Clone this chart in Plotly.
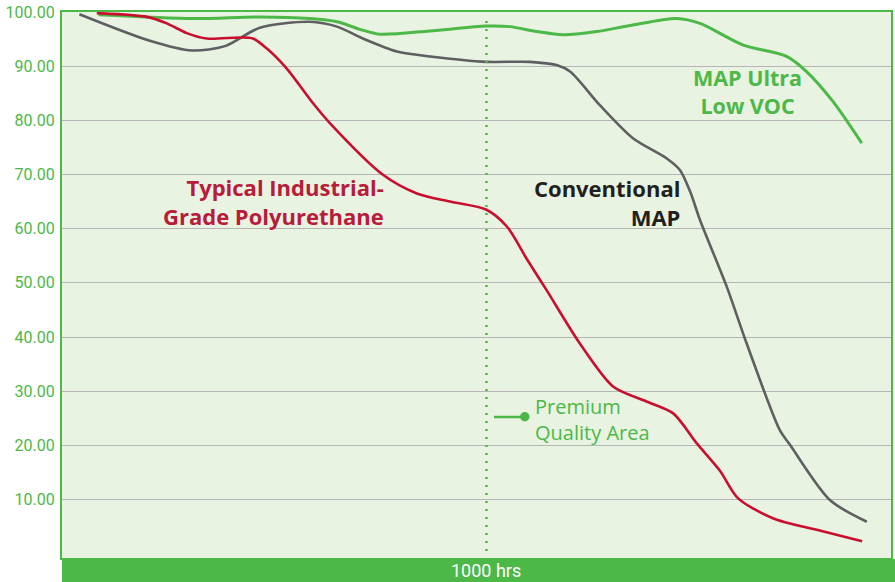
import plotly.graph_objects as go

# x in hours, y in retained value (%)
gray_x = [41, 207, 306, 384, 466, 584, 648, 709, 789, 867, 1000, 1102, 1165, 1197, 1267, 1345, 1424, 1456, 1480, 1503, 1566, 1613, 1691, 1715, 1809, 1896]
gray_y = [99.6, 94.7, 92.9, 93.7, 97.1, 98.2, 97.3, 95.1, 92.7, 91.8, 90.8, 90.8, 90.2, 89.0, 82.8, 76.7, 73.0, 70.8, 66.8, 61.6, 49.3, 38.8, 22.8, 20.1, 9.9, 5.9]

green_x = [86, 309, 466, 584, 648, 702, 749, 867, 1000, 1055, 1118, 1180, 1260, 1338, 1448, 1503, 1605, 1707, 1754, 1817, 1884]
green_y = [99.5, 98.8, 99.1, 98.8, 98.2, 96.8, 95.9, 96.5, 97.4, 97.3, 96.4, 95.8, 96.4, 97.5, 98.8, 97.9, 93.9, 91.8, 89.0, 83.4, 75.8]

red_x = [82, 200, 247, 294, 341, 419, 450, 482, 529, 591, 631, 757, 836, 914, 1000, 1048, 1095, 1142, 1220, 1299, 1377, 1440, 1495, 1550, 1593, 1676, 1778, 1885]
red_y = [99.8, 99.1, 97.9, 96.1, 95.1, 95.3, 95.1, 93.3, 89.6, 83.2, 79.5, 69.9, 66.5, 65.0, 63.5, 60.4, 54.4, 48.6, 38.8, 30.8, 28.1, 25.9, 20.4, 15.3, 10.2, 6.5, 4.4, 2.3]

y_ticks = [10, 20, 30, 40, 50, 60, 70, 80, 90, 100]
marker_hours = 1000

GREEN = "#4cb848"
RED = "#c8102e"
GRAY = "#5f5f61"
BG = "#e8f3e1"
NARROW = "Roboto, sans-serif"
BOLD = "Open Sans, sans-serif"

fig = go.Figure()
fig.add_trace(go.Scatter(x=gray_x, y=gray_y, mode="lines",
                         line=dict(color=GRAY, width=2.6, shape="spline", smoothing=0.8)))
fig.add_trace(go.Scatter(x=green_x, y=green_y, mode="lines",
                         line=dict(color=GREEN, width=3, shape="spline", smoothing=0.8)))
fig.add_trace(go.Scatter(x=red_x, y=red_y, mode="lines",
                         line=dict(color=RED, width=2.6, shape="spline", smoothing=0.8)))

# dotted 1000 hr line
fig.add_shape(type="line", xref="x", yref="y", x0=marker_hours, x1=marker_hours, y0=0.5, y1=99,
              line=dict(color=GREEN, width=2.5, dash="2px,6px"))

# bottom green bar
fig.add_shape(type="rect", xref="paper", yref="paper", x0=0, x1=1 + 4 / 829, y0=-25 / 546, y1=-1 / 546,
              fillcolor=GREEN, line=dict(width=0), layer="above")

# legend-like marker for premium quality area
fig.add_shape(type="line", xref="paper", yref="paper", x0=(494 - 62) / 829, x1=(524 - 62) / 829,
              y0=(558 - 417) / 546, y1=(558 - 417) / 546, line=dict(color=GREEN, width=2.5))
fig.add_shape(type="circle", xref="paper", yref="paper",
              x0=(520 - 62) / 829, x1=(529.5 - 62) / 829,
              y0=(558 - 421.5) / 546, y1=(558 - 412) / 546,
              fillcolor=GREEN, line=dict(width=0))

fig.add_annotation(x=marker_hours, y=-12.5 / 546, xref="x", yref="paper", text="1000 hrs",
                   showarrow=False, font=dict(family=NARROW, size=18, color="white"),
                   xanchor="center", yanchor="middle")

def px_x(px):
    return (px - 62) / 829

def px_y(py):
    return (558 - py) / 546

fig.add_annotation(x=px_x(386), y=px_y(201), xref="paper", yref="paper",
                   text="<b>Typical Industrial-<br>Grade Polyurethane</b>", showarrow=False,
                   align="right", xanchor="right", yanchor="middle",
                   font=dict(family=BOLD, size=22, color="#b71c3b"))
fig.add_annotation(x=px_x(682), y=px_y(202), xref="paper", yref="paper",
                   text="<b>Conventional<br>MAP</b>", showarrow=False,
                   align="right", xanchor="right", yanchor="middle",
                   font=dict(family=BOLD, size=22, color="#231f20"))
fig.add_annotation(x=px_x(747), y=px_y(91), xref="paper", yref="paper",
                   text="<b>MAP Ultra<br>Low VOC</b>", showarrow=False,
                   align="center", xanchor="center", yanchor="middle",
                   font=dict(family=BOLD, size=21.5, color=GREEN))
fig.add_annotation(x=px_x(533), y=px_y(419), xref="paper", yref="paper",
                   text="Premium<br>Quality Area", showarrow=False,
                   align="left", xanchor="left", yanchor="middle",
                   font=dict(family=BOLD, size=20, color=GREEN))

fig.update_layout(
    width=895, height=582,
    margin=dict(l=62, r=4, t=12, b=24, autoexpand=False),
    paper_bgcolor="white", plot_bgcolor=BG,
    showlegend=False,
    xaxis=dict(range=[0, 1953], showgrid=False, zeroline=False, showticklabels=False,
               showline=True, mirror=True, linecolor=GREEN, linewidth=2, automargin=False),
    yaxis=dict(range=[-0.8, 100], tickvals=y_ticks, tickformat=".2f", showgrid=True,
               gridcolor="#b5b5b5", gridwidth=1.2, zeroline=False, automargin=False,
               showline=True, mirror=True, linecolor=GREEN, linewidth=2,
               ticks="outside", ticklen=2, tickcolor="rgba(0,0,0,0)",
               tickfont=dict(family=NARROW, size=16, color=GREEN)),
)

fig.write_html("out.html", config={"displayModeBar": False},
               post_script="document.body.style.margin='0px';document.body.style.overflow='hidden';")
